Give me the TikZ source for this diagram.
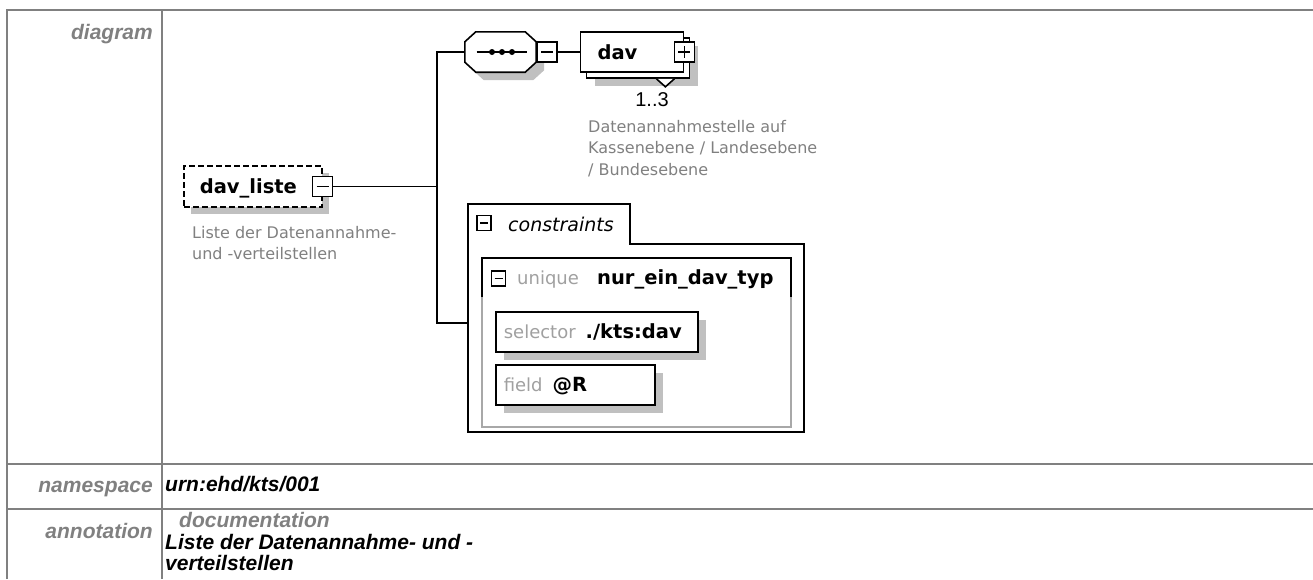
\documentclass[tikz,border=0pt]{standalone}
\usepackage{fontspec}
\setmainfont{Liberation Sans}
\newfontfamily\diafont{DejaVu Sans}
\definecolor{tblgray}{HTML}{808080}
\definecolor{descgray}{HTML}{808080}
\definecolor{kwgray}{HTML}{A0A0A0}
\definecolor{innergray}{HTML}{A8A8A8}
\definecolor{shadowgray}{HTML}{C0C0C0}
\newcommand\kwfont{\color{kwgray}\diafont\fontsize{18}{22}\selectfont\mdseries}
\usetikzlibrary{positioning,shadows}

\begin{document}
\begin{tikzpicture}[x=1pt,y=-1pt,
  tbl/.style={draw=tblgray,line width=2pt},
  rowlabel/.style={anchor=base east,inner sep=0pt,text=tblgray,font=\fontsize{21}{25}\selectfont\bfseries\itshape},
  cellval/.style={anchor=base west,inner sep=0pt,font=\fontsize{21}{25}\selectfont\bfseries\itshape},
  conn/.style={line width=1.6pt},
  elembase/.style={draw,line width=1.6pt,fill=white,inner ysep=0pt,text height=14pt,text depth=0pt,align=left,minimum height=40pt,font=\diafont\fontsize{19.5}{23}\selectfont\bfseries},
  elem/.style={elembase,drop shadow={shadow xshift=8pt,shadow yshift=-8pt,fill=shadowgray,opacity=1}},
  pmbox/.style={draw,line width=1.6pt,fill=white,inner sep=0pt,minimum width=20pt,minimum height=20pt,
    path picture={\draw[line width=1.6pt] ([xshift=4pt]path picture bounding box.west) -- ([xshift=-4pt]path picture bounding box.east);}},
  plusbox/.style={pmbox,path picture={\draw[line width=1.6pt] ([xshift=4pt]path picture bounding box.west) -- ([xshift=-4pt]path picture bounding box.east) ([yshift=-4pt]path picture bounding box.north) -- ([yshift=4pt]path picture bounding box.south);}},
  smallminus/.style={draw,line width=1.4pt,fill=white,inner sep=0pt,minimum width=14pt,minimum height=15pt,
    path picture={\draw[line width=1.4pt] ([xshift=3pt]path picture bounding box.west) -- ([xshift=-3pt]path picture bounding box.east);}},
  desc/.style={anchor=north west,inner sep=0pt,align=left,text=descgray,font=\diafont\fontsize{16}{21.5}\selectfont}]
  \useasboundingbox (0,0) rectangle (1313,579);

  \draw[tbl] (7,579) -- (7,10) -- (1313,10);
  \draw[tbl] (162,10) -- (162,579);
  \draw[tbl] (7,464) -- (1313,464);
  \draw[tbl] (7,509) -- (1313,509);
  \node[rowlabel] (lblDiagram) at (153,39) {diagram};
  \node[rowlabel] (lblNamespace) at (153,492) {namespace};
  \node[rowlabel] (lblAnnotation) at (153,538) {annotation};
  \node[cellval] (valNamespace) at (165,491) {urn:ehd/kts/001};
  \node[cellval,text=tblgray] (valDocu) at (179,527) {documentation};
  \node[cellval,anchor=north west,align=left,font=\fontsize{21}{21}\selectfont\bfseries\itshape] (valText) at (165,534) {Liste der Datenannahme- und -\\verteilstellen};

  \node[elembase,dash pattern=on 6pt off 3pt,anchor=west,text width=106pt,inner xsep=16pt,minimum height=41pt,
    drop shadow={shadow xshift=7pt,shadow yshift=-7pt,fill=shadowgray,opacity=1}] (davliste) at (183,186.5) {dav\_liste};
  \node[pmbox] (davlisteMinus) at (davliste.east) {};
  \node[desc] (davlisteDoc) at (192,226) {Liste der Datenannahme-\\und -verteilstellen};

  \node[minimum width=71pt,minimum height=40pt,inner sep=0pt] (seq) at (500.5,52) {};
  \fill[shadowgray,transform canvas={shift={(8pt,-8pt)}}] ([xshift=11pt]seq.north west) -- ([xshift=-11pt]seq.north east) -- ([yshift=-10pt]seq.north east) -- ([yshift=10pt]seq.south east) -- ([xshift=-11pt]seq.south east) -- ([xshift=11pt]seq.south west) -- ([yshift=10pt]seq.south west) -- ([yshift=-10pt]seq.north west) -- cycle;
  \draw[conn,fill=white] ([xshift=11pt]seq.north west) -- ([xshift=-11pt]seq.north east) -- ([yshift=-10pt]seq.north east) -- ([yshift=10pt]seq.south east) -- ([xshift=-11pt]seq.south east) -- ([xshift=11pt]seq.south west) -- ([yshift=10pt]seq.south west) -- ([yshift=-10pt]seq.north west) -- cycle;
  \draw[conn] ([xshift=-24pt]seq.center) -- ([xshift=26pt]seq.center);
  \foreach \d in {-8.5,1.5,11.5} \fill ([xshift=\d pt]seq.center) circle[radius=3pt];
  \node[pmbox,right=0pt of seq] (seqMinus) {};

  \node[elembase,right=22pt of seqMinus,text width=69pt,inner xsep=17pt,
    drop shadow={shadow xshift=14pt,shadow yshift=-14pt,fill=shadowgray,opacity=1},
    copy shadow={shadow xshift=6pt,shadow yshift=-6pt,draw=black,fill=white,line width=1.6pt}] (dav) {dav};
  \draw[conn,fill=white] ([xshift=-28pt,yshift=-6pt]dav.south east) -- ([xshift=-19pt,yshift=-14pt]dav.south east) -- ([xshift=-10pt,yshift=-6pt]dav.south east);
  \node[plusbox] (davPlus) at (dav.east) {};
  \node[anchor=base,inner sep=0pt,font=\fontsize{20}{24}\selectfont] (davOcc) at (652,106) {1..3};
  \node[desc] (davDoc) at (588,120) {Datenannahmestelle auf\\Kassenebene / Landesebene\\/ Bundesebene};

  \draw[conn] (468,244) |- (630,204) |- (804,244) |- (468,432) -- cycle;
  \coordinate (consIn) at (468,323);
  \coordinate (fork) at (437,186.5);
  \node[smallminus] (consMinus) at (484,223) {};
  \node[anchor=base west,inner sep=0pt,font=\diafont\fontsize{19}{23}\selectfont\itshape] (consLabel) at (508,231) {constraints};

  \draw[innergray,conn] (482,297) |- (791,427) -- (791,297);
  \draw[conn] (482,297) |- (791,258) -- (791,297);
  \node[smallminus] (uniqMinus) at (498.5,278.5) {};
  \node[anchor=base west,inner sep=0pt,font=\kwfont] (uniqKw) at (517,284) {unique};
  \node[anchor=base west,inner sep=0pt,font=\diafont\fontsize{19.5}{23}\selectfont\bfseries] (uniqName) at (597,284) {nur\_ein\_dav\_typ};
  \node[elem,anchor=north west,text width=186pt,inner xsep=8pt] (sel) at (495,311) {{\kwfont selector}\hspace{10pt}./kts:dav};
  \node[elem,anchor=north west,text width=143pt,inner xsep=8pt] (fld) at (495,364) {{\kwfont field}\hspace{10pt}@R};

  \draw[conn] (davlisteMinus.east) -- (fork);
  \draw[conn] (seq.west) -| (fork) |- (consIn);
  \draw[conn] (seqMinus.east) -- (dav.west);
\end{tikzpicture}
\end{document}
